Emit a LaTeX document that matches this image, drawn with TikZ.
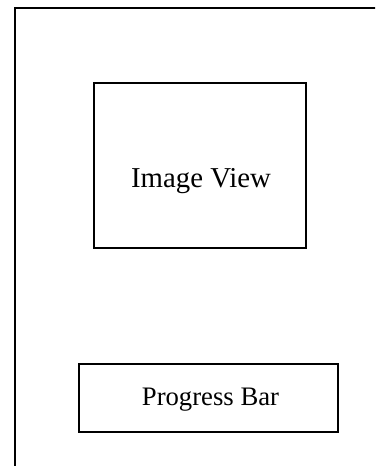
\documentclass[tikz,border=0pt]{standalone}
\usepackage{fontspec}
\setmainfont{Liberation Serif}
\begin{document}
\begin{tikzpicture}[x=1pt,y=-1pt,
  frame/.style={draw=black,line width=1.6pt,fill=none},
  panel/.style={draw=black,line width=1.6pt,inner sep=0pt},
  caption/.style={anchor=base,inner sep=0pt}]
  \clip (0,0) rectangle (375,466);
  \fill[white] (0,0) rectangle (375,466);
  % outer screen frame, running past the right and bottom edges
  \draw[frame] (15,8) rectangle (390,490);
  % image view panel
  \node[panel,minimum width=212pt,minimum height=165pt] (imageview) at (200,165.5) {};
  \node[caption,font=\fontsize{28.8}{34}\selectfont] (imagelabel) at (201,187) {Image View};
  % progress bar panel
  \node[panel,minimum width=259pt,minimum height=68pt] (progress) at (208.5,398) {};
  \node[caption,font=\fontsize{26.7}{32}\selectfont] (progresslabel) at (210.5,405) {Progress Bar};
\end{tikzpicture}
\end{document}
